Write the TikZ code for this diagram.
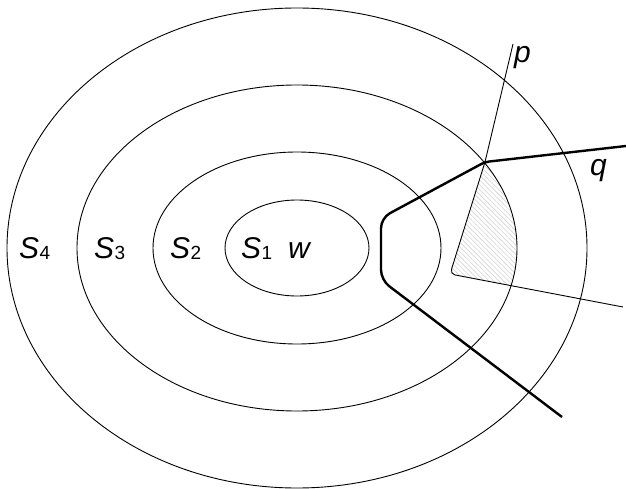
\documentclass[tikz,border=0pt]{standalone}
\usepackage{fontspec}
\setmainfont{Liberation Sans}
\usetikzlibrary{patterns.meta}
\newcommand{\Slab}[1]{\textit{S}\kern0.3pt\raisebox{-1.5pt}{\fontsize{19}{20}\selectfont #1}}
\begin{document}
\begin{tikzpicture}[x=1pt,y=-1pt,
  thinline/.style={line width=0.9pt, black},
  thickline/.style={line width=2.4pt, black, line join=round},
  lab/.style={anchor=base west, inner sep=0pt, font=\fontsize{30}{32}\selectfont},
  hatch/.style={pattern={Lines[angle=-45, distance=3.4pt, line width=0.6pt]}, pattern color=gray!35}]
\useasboundingbox (0,0) rectangle (626,489);
% hatched region
\begin{scope}
  \clip (297,248) ellipse [x radius=220pt, y radius=163pt];
  \fill[hatch, rounded corners=5pt] (485,162) -- (450,274) -- (640,311) -- (640,150) -- cycle;
\end{scope}
% ellipses
\draw[thinline] (297,248) ellipse [x radius=72pt, y radius=48pt];
\draw[thinline] (297,248) ellipse [x radius=144pt, y radius=96pt];
\draw[thinline] (297,248) ellipse [x radius=220pt, y radius=163pt];
\draw[thinline] (297,248) ellipse [x radius=290pt, y radius=240pt];
% named points
\coordinate (ptop) at (513,44);
\coordinate (x) at (485,162);
\coordinate (pc) at (450,274);
\coordinate (pend) at (623,307);
\coordinate (qend) at (626,146);
\coordinate (c1) at (381,218);
\coordinate (c2) at (381,280);
\coordinate (bend) at (562,417);
% thin line p
\draw[thinline, rounded corners=5pt] (ptop) -- (x) -- (pc) -- (pend);
% thick line q
\draw[thickline] (qend) [rounded corners=4pt] -- (x) [rounded corners=10pt] -- (c1) -- (c2) -- (bend);
% labels
\node[lab] (s4) at (19,258) {\Slab{4}};
\node[lab] (s3) at (94,258) {\Slab{3}};
\node[lab] (s2) at (170,258) {\Slab{2}};
\node[lab] (s1) at (241,258) {\Slab{1}};
\node[lab] (w) at (288,258) {\textit{w}};
\node[lab] (p) at (514,63) {\textit{p}};
\node[lab] (q) at (590,176) {\textit{q}};
\end{tikzpicture}
\end{document}
